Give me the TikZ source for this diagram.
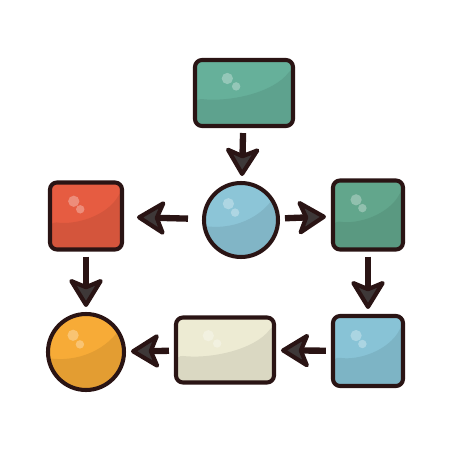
\documentclass[tikz,border=0pt]{standalone}
\usepackage{tikz}
\usetikzlibrary{positioning,calc,arrows.meta}

\definecolor{rim}{HTML}{2A1414}
\definecolor{tipgray}{HTML}{3E3838}
\definecolor{tealc}{HTML}{66B09A}
\definecolor{skyc}{HTML}{8CC5D7}
\definecolor{greenc}{HTML}{62A68C}
\definecolor{redc}{HTML}{E65C41}
\definecolor{orangec}{HTML}{F7AB37}
\definecolor{creamc}{HTML}{EDEBD3}
\definecolor{bluec}{HTML}{88C3D6}

\tikzset{
  gloss/.style={fill=#1, draw=rim, line width=2.3pt,
    path picture={
      % darker lower half
      \fill[#1!92!black] let \p1=(path picture bounding box.south west),
        \p2=(path picture bounding box.north east) in
        (\x1,\y1) -- (\x1,{\y1+0.42*(\y2-\y1)})
        .. controls ({\x1+0.35*(\x2-\x1)},{\y1+0.36*(\y2-\y1)})
        and ({\x1+0.8*(\x2-\x1)},{\y1+0.5*(\y2-\y1)}) ..
        (\x2,{\y1+0.9*(\y2-\y1)}) -- (\x2,\y1) -- cycle;
      % highlights
      \fill[white, opacity=.3] let \p1=(path picture bounding box.south west),
        \p2=(path picture bounding box.north east) in
        ({\x1+0.33*(\x2-\x1)},{\y1+0.72*(\y2-\y1)}) circle (3.2pt)
        ({\x1+0.42*(\x2-\x1)},{\y1+0.6*(\y2-\y1)}) circle (2.4pt);
    }},
  block/.style={gloss=#1, rectangle, rounded corners=4pt, inner sep=0pt},
  orb/.style={gloss=#1, circle, inner sep=0pt},
  flow/.style={-{Stealth[length=0.64cm, width=0.78cm, inset=0.16cm,
    fill=tipgray, line width=2.4pt, round]}, draw=rim, line width=3.6pt,
    shorten >=0.1cm, shorten <=0.1cm}
}

\begin{document}
\begin{tikzpicture}[on grid]
  \useasboundingbox (-4.82,-4.60) rectangle (4.18,4.40);

  % middle row
  \node[orb=skyc, minimum size=1.48cm] (hub) at (0,0) {};
  \node[block=greenc, minimum width=1.4cm, minimum height=1.38cm]
    (right) [right=2.54cm of hub, yshift=0.1cm] {};
  \node[block=redc, minimum width=1.44cm, minimum height=1.34cm]
    (left) [left=3.1cm of hub, yshift=0.08cm] {};
  % top
  \node[block=tealc, minimum width=1.96cm, minimum height=1.32cm]
    (start) [above=2.54cm of hub, xshift=0.06cm] {};
  % bottom row
  \node[block=bluec, minimum size=1.4cm] (down) [below=2.72cm of right] {};
  \node[block=creamc, minimum width=1.96cm, minimum height=1.3cm]
    (mid) [left=2.86cm of down, yshift=0.02cm] {};
  \node[orb=orangec, minimum size=1.52cm] (finish) [below=2.72cm of left] {};

  \path[flow]
    (start) edge (hub)
    (hub) edge (right)
    (hub) edge [shorten <=0.28cm, shorten >=0.26cm] (left)
    (left) edge (finish)
    (right) edge (down)
    (down) edge (mid)
    (mid) edge (finish);
\end{tikzpicture}
\end{document}
